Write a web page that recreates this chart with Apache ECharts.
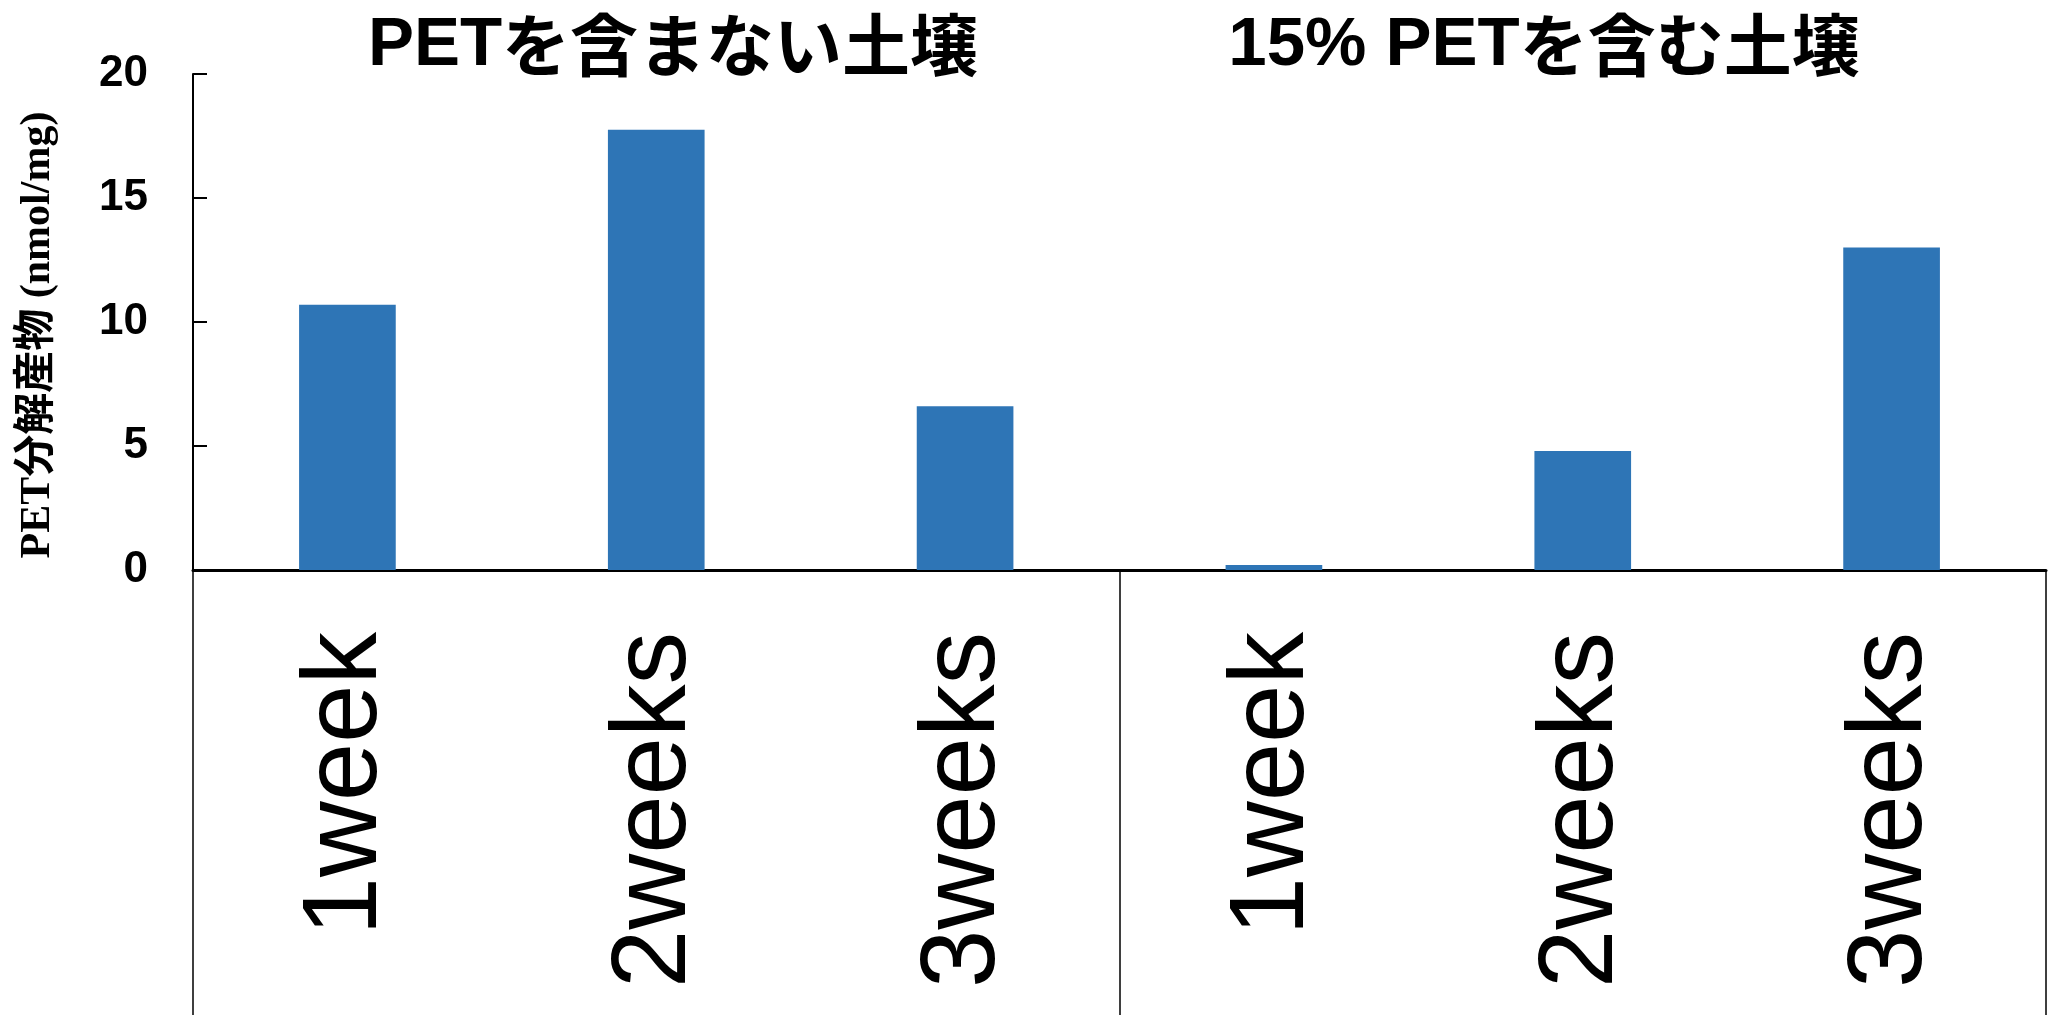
<!DOCTYPE html>
<html>
<head>
<meta charset="utf-8">
<script src="https://cdn.jsdelivr.net/npm/echarts@6/dist/echarts.min.js"></script>
<style>
  html, body { margin: 0; padding: 0; background: #ffffff; }
  #chart { width: 2053px; height: 1015px; }
</style>
</head>
<body>
<div id="chart"></div>
<script>
// Soil groups and sampling periods
const groupTitles = ['PETを含まない土壌', '15% PETを含む土壌'];
const weeks = ['1week', '2weeks', '3weeks'];

// PET degradation products (nmol/mg)
const soilNoPet = [10.7, 17.75, 6.6];
const soilWithPet = [0.2, 4.8, 13.0];

// Y axis range
const yMin = 0;
const yMax = 20;
const yStep = 5;

const categories = weeks.concat(weeks);
const values = soilNoPet.concat(soilWithPet);

const latinFont = "'Liberation Sans', Arial, 'Noto Sans CJK JP'";
const titleRich = {
  l: { fontFamily: latinFont, fontWeight: 'bold', fontSize: 69, color: '#000' },
  j: { fontFamily: "'Noto Sans CJK JP'", fontWeight: 'bold', fontSize: 68, color: '#000' }
};

// split a title into its Latin part and its Japanese part for rich text
function richTitle(t) {
  const i = t.search(/[\u3040-\u30ff\u4e00-\u9fff]/);
  return '{l|' + t.slice(0, i) + '}{j|' + t.slice(i) + '}';
}

const chart = echarts.init(document.getElementById('chart'), null, { renderer: 'canvas' });

chart.setOption({
  animation: false,
  backgroundColor: '#ffffff',
  title: [
    { text: richTitle(groupTitles[0]), left: 668, top: 6, textAlign: 'center', textStyle: { rich: titleRich } },
    { text: richTitle(groupTitles[1]), left: 1539, top: 6, textAlign: 'center', textStyle: { rich: titleRich } }
  ],
  grid: { left: 193, right: 7, top: 74, bottom: 445, containLabel: false },
  xAxis: {
    type: 'category',
    data: categories,
    boundaryGap: true,
    axisLine: { show: true, onZero: true, lineStyle: { color: '#000', width: 3 } },
    axisTick: {
      show: true,
      inside: false,
      length: 450,
      interval: function (index) { return index % weeks.length === 0; },
      lineStyle: { color: '#000', width: 1.5 }
    },
    axisLabel: {
      interval: 0,
      rotate: 90,
      margin: 62,
      fontFamily: latinFont,
      fontSize: 105,
      color: '#000'
    },
    splitLine: { show: false }
  },
  yAxis: {
    type: 'value',
    min: yMin,
    max: yMax,
    interval: yStep,
    name: 'PET分解産物 (nmol/mg)',
    nameLocation: 'middle',
    nameGap: 134,
    nameRotate: 90,
    nameTextStyle: {
      fontFamily: "'Liberation Serif', 'Noto Sans CJK JP'",
      fontWeight: 'bold',
      fontSize: 42,
      color: '#000',
      padding: [0, 26, 0, 0]
    },
    axisLine: { show: true, lineStyle: { color: '#000', width: 2 } },
    axisTick: { show: true, inside: true, length: 14, lineStyle: { color: '#000', width: 2 } },
    axisLabel: {
      margin: 45,
      fontFamily: latinFont,
      fontWeight: 'bold',
      fontSize: 44,
      color: '#000'
    },
    splitLine: { show: false }
  },
  series: [{
    type: 'bar',
    data: values,
    barWidth: '31.3%',
    itemStyle: { color: '#2E75B6' }
  }]
});
</script>
</body>
</html>
